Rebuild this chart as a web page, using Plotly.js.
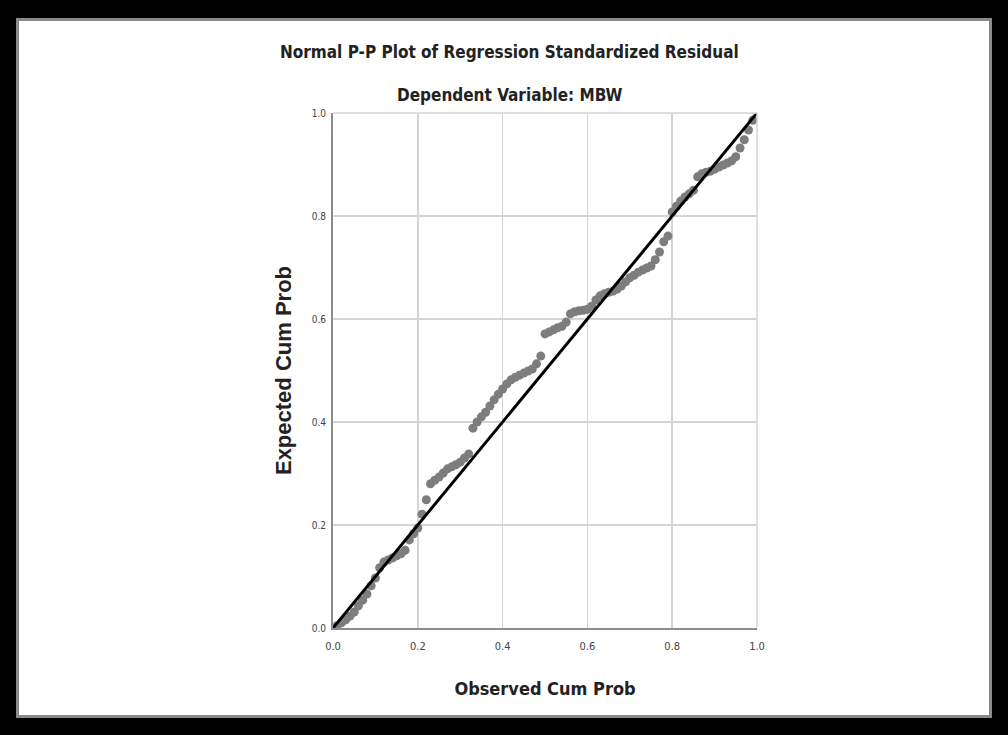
<!DOCTYPE html>
<html>
<head>
<meta charset="utf-8">
<script src="https://cdn.plot.ly/plotly-3.0.1.min.js"></script>
<style>
  html, body { margin:0; padding:0; background:#000; width:1008px; height:735px; overflow:hidden; }
  #frame { position:absolute; left:16px; top:18px; width:970px; height:694px; background:#fff; border:3px solid #8a8a8a; }
  #plot { position:absolute; left:0; top:0; width:1008px; height:735px; }
</style>
</head>
<body>
<div id="frame"></div>
<div id="plot"></div>
<script>
// Observed cumulative probability (x) and expected cumulative probability (y)
const observedCumProb = [
  0.01,0.02,0.03,0.04,0.05,0.06,0.07,0.08,0.09,0.10,
  0.11,0.12,0.13,0.14,0.15,0.16,0.17,0.18,0.19,0.20,
  0.21,0.22,0.23,0.24,0.25,0.26,0.27,0.28,0.29,0.30,
  0.31,0.32,0.33,0.34,0.35,0.36,0.37,0.38,0.39,0.40,
  0.41,0.42,0.43,0.44,0.45,0.46,0.47,0.48,0.49,0.50,
  0.51,0.52,0.53,0.54,0.55,0.56,0.57,0.58,0.59,0.60,
  0.61,0.62,0.63,0.64,0.65,0.66,0.67,0.68,0.69,0.70,
  0.71,0.72,0.73,0.74,0.75,0.76,0.77,0.78,0.79,0.80,
  0.81,0.82,0.83,0.84,0.85,0.86,0.87,0.88,0.89,0.90,
  0.91,0.92,0.93,0.94,0.95,0.96,0.97,0.98,0.99
];
const expectedCumProb = [
  0.005,0.010,0.016,0.023,0.031,0.043,0.054,0.066,0.082,0.097,
  0.117,0.128,0.132,0.136,0.140,0.144,0.151,0.171,0.183,0.194,
  0.221,0.249,0.280,0.287,0.293,0.301,0.309,0.313,0.317,0.322,
  0.330,0.338,0.388,0.400,0.410,0.419,0.431,0.443,0.454,0.464,
  0.474,0.482,0.487,0.491,0.495,0.499,0.503,0.513,0.528,0.571,
  0.575,0.579,0.583,0.586,0.594,0.610,0.614,0.616,0.617,0.619,
  0.625,0.637,0.645,0.649,0.652,0.654,0.658,0.664,0.672,0.680,
  0.685,0.691,0.695,0.699,0.703,0.715,0.730,0.750,0.761,0.808,
  0.819,0.829,0.837,0.843,0.850,0.876,0.882,0.885,0.887,0.891,
  0.895,0.899,0.903,0.907,0.915,0.932,0.948,0.967,0.986
];
// Reference diagonal (normal line)
const refLineX = [0, 1];
const refLineY = [0, 1];
const tickVals = [0, 0.2, 0.4, 0.6, 0.8, 1.0];
const tickText = ["0.0", "0.2", "0.4", "0.6", "0.8", "1.0"];

const chartTitle = "Normal P-P Plot of Regression Standardized Residual";
const chartSubtitle = "Dependent Variable: MBW";
const xTitle = "Observed Cum Prob";
const yTitle = "Expected Cum Prob";

const narrow = "'Liberation Sans Narrow', 'Arial Narrow', 'DejaVu Sans Condensed', sans-serif";

const traces = [
  {
    x: observedCumProb, y: expectedCumProb,
    type: 'scatter', mode: 'markers',
    marker: { color: '#7d7d7d', size: 9 },
    cliponaxis: false, hoverinfo: 'skip'
  },
  {
    x: refLineX, y: refLineY,
    type: 'scatter', mode: 'lines',
    line: { color: '#000', width: 3 },
    cliponaxis: false, hoverinfo: 'skip'
  }
];

const layout = {
  width: 1008, height: 735,
  margin: { l: 333, r: 251, t: 113, b: 107 },
  paper_bgcolor: 'rgba(0,0,0,0)',
  plot_bgcolor: '#fff',
  showlegend: false,
  xaxis: {
    range: [0, 1], tickvals: tickVals, ticktext: tickText,
    showgrid: true, gridcolor: '#d4d4d4', gridwidth: 1.5,
    zeroline: false, showline: true, linecolor: '#8c8c8c', linewidth: 2,
    ticks: '', ticklabelstandoff: 7, tickfont: { family: narrow, size: 11, color: '#444' },
    title: { text: xTitle, font: { family: narrow, size: 18, color: '#222', weight: 'bold' }, standoff: 30 }
  },
  yaxis: {
    range: [0, 1], tickvals: tickVals, ticktext: tickText,
    showgrid: true, gridcolor: '#d4d4d4', gridwidth: 1.5,
    zeroline: false, showline: true, linecolor: '#8c8c8c', linewidth: 2,
    ticks: '', ticklabelstandoff: 3, tickfont: { family: narrow, size: 10, color: '#444' },
    title: { text: yTitle, font: { family: "'Liberation Sans', Arial, sans-serif", size: 22, color: '#222', weight: 'bold' }, standoff: 14 }
  },
  shapes: [
    { type: 'line', xref: 'paper', yref: 'paper', x0: 1, x1: 1, y0: 0, y1: 1, line: { color: '#d4d4d4', width: 1.5 } },
    { type: 'line', xref: 'paper', yref: 'paper', x0: 0, x1: 1, y0: 1, y1: 1, line: { color: '#d4d4d4', width: 1.5 } }
  ],
  annotations: [
    { text: chartTitle, xref: 'paper', yref: 'paper', x: 0.417, y: 1, yshift: 61, xanchor: 'center', yanchor: 'middle', showarrow: false,
      font: { family: narrow, size: 17, color: '#222', weight: 'bold' } },
    { text: chartSubtitle, xref: 'paper', yref: 'paper', x: 0.417, y: 1, yshift: 18, xanchor: 'center', yanchor: 'middle', showarrow: false,
      font: { family: narrow, size: 17, color: '#222', weight: 'bold' } }
  ]
};

Plotly.newPlot('plot', traces, layout, { staticPlot: true, displayModeBar: false });
</script>
</body>
</html>
